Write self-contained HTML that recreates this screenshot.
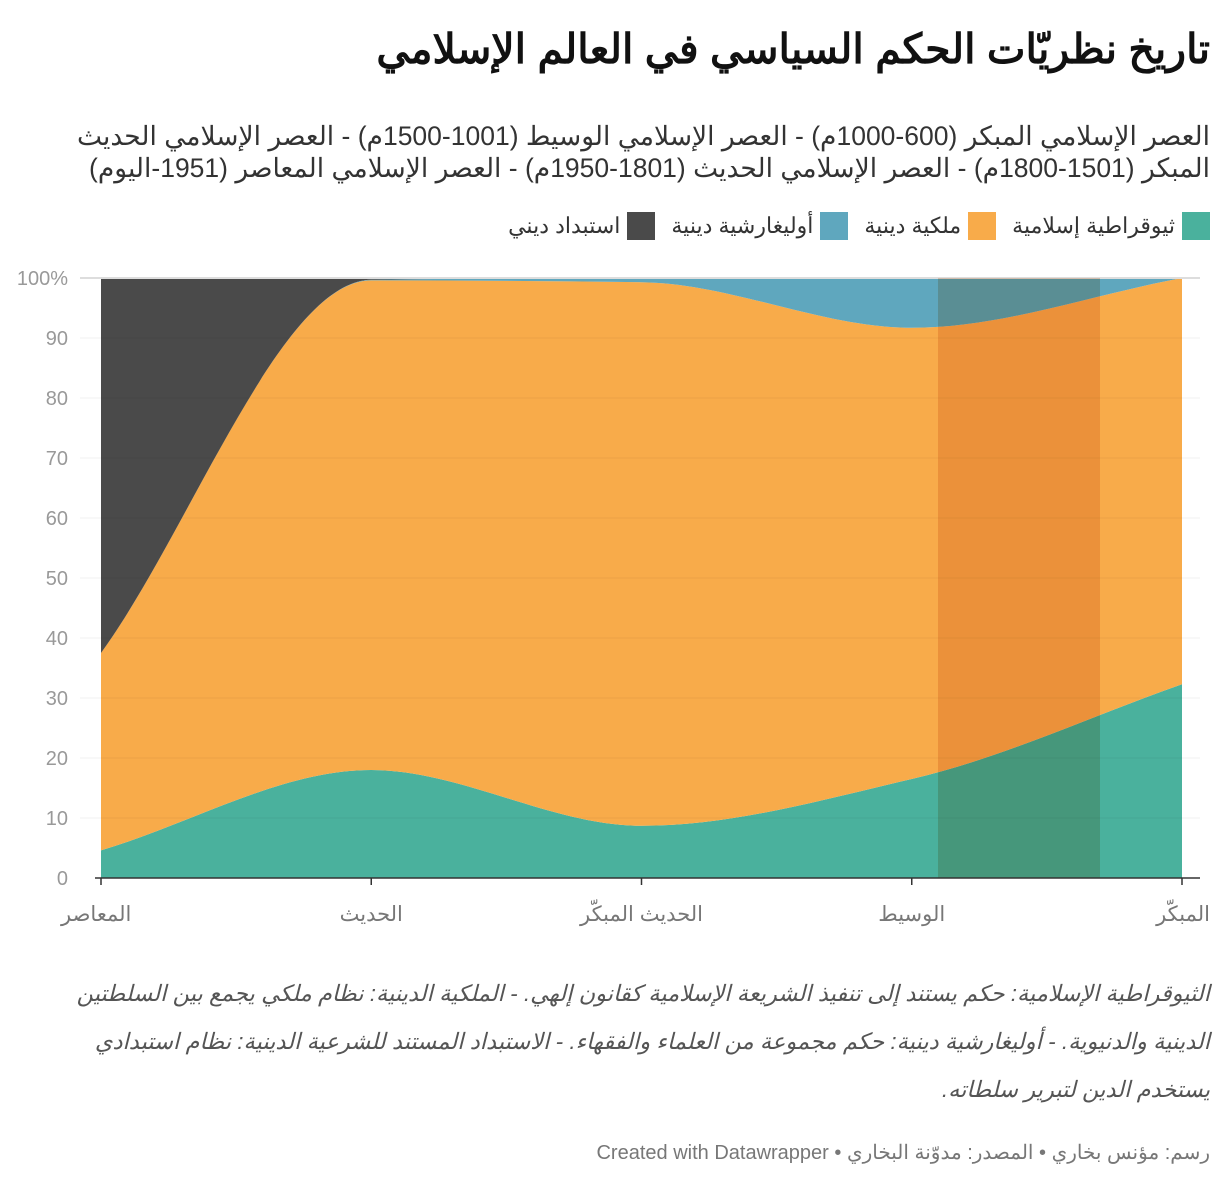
<!DOCTYPE html>
<html><head><meta charset="utf-8">
<style>
body{margin:0;background:#fff;width:1220px;height:1188px;overflow:hidden;font-family:"Liberation Sans","Noto Sans CJK SC",sans-serif;}
.t{position:absolute;right:10px;direction:rtl;text-align:right;white-space:nowrap;}
#title{top:25px;font-size:41px;font-weight:bold;color:#111;}
#sub{top:120px;font-size:26.5px;line-height:32px;color:#333;}
#legend{top:212px;font-size:22px;color:#333;display:flex;gap:16px;}
.li{display:flex;align-items:center;gap:7px}
.sw{width:28px;height:28px;display:inline-block}
#notes{top:970px;font-size:22.5px;font-style:italic;color:#555;line-height:48px;}
#foot{top:1140px;font-size:20px;color:#777;}
</style></head><body>
<div class="t" id="title">تاريخ نظريّات الحكم السياسي في العالم الإسلامي</div>
<div class="t" id="sub">العصر الإسلامي المبكر (600-1000م) - العصر الإسلامي الوسيط (1001-1500م) - العصر الإسلامي الحديث<br>المبكر (1501-1800م) - العصر الإسلامي الحديث (1801-1950م) - العصر الإسلامي المعاصر (1951-اليوم)</div>
<div class="t" id="legend">
<span class="li"><span class="sw" style="background:#4ab19d"></span>ثيوقراطية إسلامية</span>
<span class="li"><span class="sw" style="background:#f8ab4a"></span>ملكية دينية</span>
<span class="li"><span class="sw" style="background:#5fa7be"></span>أوليغارشية دينية</span>
<span class="li"><span class="sw" style="background:#4a4a4a"></span>استبداد ديني</span>
</div>
<svg id="chart" width="1220" height="940" style="position:absolute;left:0;top:0"></svg>
<div class="t" id="notes">الثيوقراطية الإسلامية: حكم يستند إلى تنفيذ الشريعة الإسلامية كقانون إلهي. - الملكية الدينية: نظام ملكي يجمع بين السلطتين<br>الدينية والدنيوية. - أوليغارشية دينية: حكم مجموعة من العلماء والفقهاء. - الاستبداد المستند للشرعية الدينية: نظام استبدادي<br>يستخدم الدين لتبرير سلطاته.</div>
<div class="t" id="foot">رسم: مؤنس بخاري • المصدر: مدوّنة البخاري • <span style="direction:ltr;unicode-bidi:embed">Created with Datawrapper</span></div>
<script>
const categories=["المبكّر","الوسيط","الحديث المبكّر","الحديث","المعاصر"];
const theocracy=[32.3,16.5,8.7,18,4.6];
const monarchy=[67.7,75.2,90.6,81.6,32.9];
const oligarchy=[0,8.3,0.7,0.1,0];
const despotism=[0,0,0,0.3,62.5];
const yTicks=[0,10,20,30,40,50,60,70,80,90,100];
const NS="http://www.w3.org/2000/svg";
const svg=document.getElementById('chart');
const X0=1182,X1=101,Y0=878,Y1=278;
const xs=i=>X0+(X1-X0)*i/(categories.length-1);
const ys=v=>Y0+(Y1-Y0)*v/100;
function mk(t,a){const e=document.createElementNS(NS,t);for(const k in a)e.setAttribute(k,a[k]);svg.appendChild(e);return e;}
yTicks.forEach(v=>{
 const t=mk('text',{x:68,y:ys(v)+7,'text-anchor':'end','font-size':20,fill:'#999','font-family':'Liberation Sans'});
 t.textContent=v==100?'100%':v;
 
 
});
function monoPts(pts){
 const n=pts.length,d=[],m=[];
 for(let i=0;i<n-1;i++)d.push((pts[i+1][1]-pts[i][1])/(pts[i+1][0]-pts[i][0]));
 for(let i=0;i<n;i++){
  if(i==0)m.push(d[0]);else if(i==n-1)m.push(d[n-2]);
  else m.push(d[i-1]*d[i]<=0?0:2*d[i-1]*d[i]/(d[i-1]+d[i]));
 }
 let s='';
 for(let i=0;i<n-1;i++){
  const h=(pts[i+1][0]-pts[i][0])/3;
  s+=` C${pts[i][0]+h},${pts[i][1]+m[i]*h} ${pts[i+1][0]-h},${pts[i+1][1]-m[i+1]*h} ${pts[i+1][0]},${pts[i+1][1]}`;
 }
 return s;
}
const series=[[theocracy,'#4ab19d','area-theocracy'],[monarchy,'#f8ab4a','area-monarchy'],[oligarchy,'#5fa7be','area-oligarchy'],[despotism,'#4a4a4a','area-despotism']];
let base=categories.map(()=>0);
series.forEach(([vals,col,name])=>{
 const top=base.map((b,i)=>b+vals[i]);
 const tp=top.map((v,i)=>[xs(i),ys(v)]);
 const bp=base.map((v,i)=>[xs(i),ys(v)]).reverse();
 const d=`M${tp[0][0]},${tp[0][1]}`+monoPts(tp)+` L${bp[0][0]},${bp[0][1]}`+monoPts(bp)+'Z';
 const p=mk('path',{d:d,fill:col});
 
 
 base=top;
});
yTicks.forEach(v=>{
 if(v==0)return;
 const l=mk('line',{x1:80,x2:1200,y1:ys(v),y2:ys(v),stroke:v==100?'#ddd':'rgba(0,0,0,0.05)','stroke-width':v==100?2:1});
 
 
});
const hl=mk('rect',{x:938,y:Y1,width:162,height:Y0-Y1,fill:'rgb(242,217,199)',style:'mix-blend-mode:multiply'});


const ax=mk('line',{x1:95,x2:1200,y1:Y0,y2:Y0,stroke:'#333','stroke-width':1.5});


categories.forEach((c,i)=>{
 const tk=mk('line',{x1:xs(i),x2:xs(i),y1:Y0,y2:Y0+7,stroke:'#333','stroke-width':1.5});
 
 
 const anchor=i==0?'end':(i==categories.length-1?'start':'middle');
 const t=mk('text',{x:i==0?xs(i)+28:(i==categories.length-1?xs(i)-40:xs(i)),y:921,'text-anchor':anchor,'font-size':21,fill:'#777','font-family':'Liberation Sans, Noto Sans CJK SC, sans-serif'});
 t.textContent=c;
 
 
});
</script>
</body></html>
